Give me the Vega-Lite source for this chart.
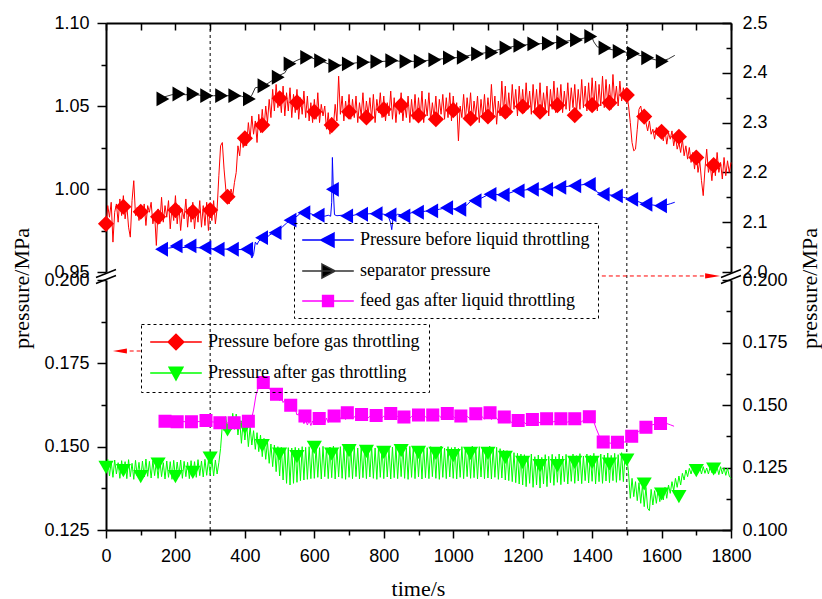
{
"$schema":"https://vega.github.io/schema/vega-lite/v6.json",
"width":625,"height":507,
"autosize":{"type":"none"},
"padding":{"left":106,"top":23,"right":91,"bottom":69},
"background":"white",
"config":{
 "view":{"stroke":null},
 "axis":{"labelFont":"Liberation Sans","labelFontSize":18,"labelColor":"black","titleFont":"Liberation Serif","titleFontSize":22,"titleFontWeight":"normal","titleColor":"black","domainColor":"black","domainWidth":2,"tickColor":"black","tickWidth":1.5,"grid":false,"labelFlush":false,"labelOverlap":false,"labelBound":false},
 "legend":{"labelFont":"Liberation Serif","labelFontSize":18,"labelColor":"black","labelLimit":400,"symbolStrokeWidth":1.5,"symbolSize":144,"symbolOffset":17,"labelOffset":23,"rowPadding":11,"symbolOpacity":1,"strokeColor":"black","orient":"none","title":null}
},
"datasets":{
"vl":[{"t":300},{"t":1500}],
"legB":[{"s":"Pressure before gas throttling"},{"s":"Pressure after gas throttling"}],
"legA":[{"s":"Pressure before liquid throttling"},{"s":"separator pressure"},{"s":"feed gas after liquid throttling"}],
"red":[{"t":0,"v":0.978},{"t":5,"v":0.990},{"t":10,"v":0.983},{"t":15,"v":0.992},{"t":20,"v":0.968},{"t":25,"v":0.986},{"t":30,"v":0.991},{"t":35,"v":0.980},{"t":40,"v":0.994},{"t":45,"v":0.984},{"t":50,"v":0.996},{"t":55,"v":0.982},{"t":60,"v":0.990},{"t":65,"v":0.977},{"t":70,"v":0.971},{"t":75,"v":0.993},{"t":80,"v":1.005},{"t":85,"v":0.984},{"t":90,"v":0.989},{"t":95,"v":0.981},{"t":100,"v":0.988},{"t":105,"v":0.983},{"t":110,"v":0.991},{"t":115,"v":0.978},{"t":120,"v":0.990},{"t":125,"v":0.986},{"t":130,"v":0.992},{"t":135,"v":0.979},{"t":140,"v":0.985},{"t":145,"v":0.966},{"t":150,"v":0.988},{"t":155,"v":0.979},{"t":160,"v":0.995},{"t":165,"v":0.980},{"t":170,"v":0.990},{"t":175,"v":0.983},{"t":180,"v":0.993},{"t":185,"v":0.976},{"t":190,"v":0.989},{"t":195,"v":0.981},{"t":200,"v":0.996},{"t":205,"v":0.979},{"t":210,"v":0.990},{"t":215,"v":0.975},{"t":220,"v":0.987},{"t":225,"v":0.982},{"t":230,"v":0.994},{"t":235,"v":0.977},{"t":240,"v":0.989},{"t":245,"v":0.980},{"t":250,"v":0.992},{"t":255,"v":0.976},{"t":260,"v":0.988},{"t":265,"v":0.980},{"t":270,"v":0.993},{"t":275,"v":0.977},{"t":280,"v":0.990},{"t":285,"v":0.978},{"t":290,"v":0.992},{"t":295,"v":0.975},{"t":300,"v":0.989},{"t":305,"v":0.981},{"t":310,"v":0.993},{"t":315,"v":0.979},{"t":320,"v":0.988},{"t":325,"v":1.008},{"t":330,"v":1.026},{"t":335,"v":1.028},{"t":340,"v":1.012},{"t":345,"v":1.000},{"t":350,"v":0.993},{"t":355,"v":0.991},{"t":360,"v":1.000},{"t":365,"v":0.996},{"t":370,"v":1.004},{"t":375,"v":1.010},{"t":380,"v":1.026},{"t":385,"v":1.020},{"t":390,"v":1.033},{"t":395,"v":1.025},{"t":400,"v":1.032},{"t":405,"v":1.026},{"t":410,"v":1.040},{"t":415,"v":1.030},{"t":420,"v":1.044},{"t":425,"v":1.033},{"t":430,"v":1.041},{"t":435,"v":1.028},{"t":440,"v":1.045},{"t":445,"v":1.034},{"t":450,"v":1.048},{"t":455,"v":1.036},{"t":460,"v":1.050},{"t":465,"v":1.040},{"t":470,"v":1.054},{"t":475,"v":1.043},{"t":480,"v":1.060},{"t":485,"v":1.047},{"t":490,"v":1.063},{"t":495,"v":1.049},{"t":500,"v":1.058},{"t":505,"v":1.046},{"t":510,"v":1.062},{"t":515,"v":1.044},{"t":520,"v":1.058},{"t":525,"v":1.047},{"t":530,"v":1.061},{"t":535,"v":1.043},{"t":540,"v":1.057},{"t":545,"v":1.046},{"t":550,"v":1.060},{"t":555,"v":1.042},{"t":560,"v":1.055},{"t":565,"v":1.045},{"t":570,"v":1.059},{"t":575,"v":1.043},{"t":580,"v":1.056},{"t":585,"v":1.041},{"t":590,"v":1.052},{"t":595,"v":1.040},{"t":600,"v":1.054},{"t":605,"v":1.042},{"t":610,"v":1.058},{"t":615,"v":1.040},{"t":620,"v":1.051},{"t":625,"v":1.044},{"t":630,"v":1.050},{"t":635,"v":1.036},{"t":640,"v":1.046},{"t":645,"v":1.033},{"t":650,"v":1.043},{"t":655,"v":1.038},{"t":660,"v":1.051},{"t":665,"v":1.041},{"t":670,"v":1.068},{"t":675,"v":1.045},{"t":680,"v":1.056},{"t":685,"v":1.041},{"t":690,"v":1.053},{"t":695,"v":1.044},{"t":700,"v":1.057},{"t":705,"v":1.042},{"t":710,"v":1.054},{"t":715,"v":1.043},{"t":720,"v":1.056},{"t":725,"v":1.040},{"t":730,"v":1.052},{"t":735,"v":1.044},{"t":740,"v":1.058},{"t":745,"v":1.041},{"t":750,"v":1.053},{"t":755,"v":1.045},{"t":760,"v":1.055},{"t":765,"v":1.042},{"t":770,"v":1.057},{"t":775,"v":1.040},{"t":780,"v":1.054},{"t":785,"v":1.046},{"t":790,"v":1.058},{"t":795,"v":1.043},{"t":800,"v":1.056},{"t":805,"v":1.041},{"t":810,"v":1.052},{"t":815,"v":1.044},{"t":820,"v":1.059},{"t":825,"v":1.042},{"t":830,"v":1.055},{"t":835,"v":1.040},{"t":840,"v":1.053},{"t":845,"v":1.045},{"t":850,"v":1.058},{"t":855,"v":1.041},{"t":860,"v":1.052},{"t":865,"v":1.043},{"t":870,"v":1.056},{"t":875,"v":1.040},{"t":880,"v":1.054},{"t":885,"v":1.042},{"t":890,"v":1.057},{"t":895,"v":1.041},{"t":900,"v":1.055},{"t":905,"v":1.043},{"t":910,"v":1.059},{"t":915,"v":1.040},{"t":920,"v":1.054},{"t":925,"v":1.044},{"t":930,"v":1.058},{"t":935,"v":1.041},{"t":940,"v":1.052},{"t":945,"v":1.043},{"t":950,"v":1.056},{"t":955,"v":1.040},{"t":960,"v":1.054},{"t":965,"v":1.045},{"t":970,"v":1.057},{"t":975,"v":1.042},{"t":980,"v":1.055},{"t":985,"v":1.043},{"t":990,"v":1.058},{"t":995,"v":1.041},{"t":1000,"v":1.056},{"t":1005,"v":1.044},{"t":1010,"v":1.052},{"t":1015,"v":1.029},{"t":1020,"v":1.050},{"t":1025,"v":1.043},{"t":1030,"v":1.057},{"t":1035,"v":1.041},{"t":1040,"v":1.055},{"t":1045,"v":1.044},{"t":1050,"v":1.058},{"t":1055,"v":1.041},{"t":1060,"v":1.053},{"t":1065,"v":1.044},{"t":1070,"v":1.056},{"t":1075,"v":1.040},{"t":1080,"v":1.054},{"t":1085,"v":1.043},{"t":1090,"v":1.057},{"t":1095,"v":1.042},{"t":1100,"v":1.055},{"t":1105,"v":1.044},{"t":1110,"v":1.063},{"t":1115,"v":1.045},{"t":1120,"v":1.056},{"t":1125,"v":1.039},{"t":1130,"v":1.053},{"t":1135,"v":1.044},{"t":1140,"v":1.065},{"t":1145,"v":1.046},{"t":1150,"v":1.062},{"t":1155,"v":1.043},{"t":1160,"v":1.058},{"t":1165,"v":1.045},{"t":1170,"v":1.063},{"t":1175,"v":1.048},{"t":1180,"v":1.060},{"t":1185,"v":1.044},{"t":1190,"v":1.062},{"t":1195,"v":1.047},{"t":1200,"v":1.060},{"t":1205,"v":1.046},{"t":1210,"v":1.064},{"t":1215,"v":1.048},{"t":1220,"v":1.059},{"t":1225,"v":1.045},{"t":1230,"v":1.063},{"t":1235,"v":1.047},{"t":1240,"v":1.060},{"t":1245,"v":1.046},{"t":1250,"v":1.064},{"t":1255,"v":1.045},{"t":1260,"v":1.058},{"t":1265,"v":1.047},{"t":1270,"v":1.062},{"t":1275,"v":1.044},{"t":1280,"v":1.060},{"t":1285,"v":1.048},{"t":1290,"v":1.065},{"t":1295,"v":1.046},{"t":1300,"v":1.061},{"t":1305,"v":1.047},{"t":1310,"v":1.063},{"t":1315,"v":1.046},{"t":1320,"v":1.059},{"t":1325,"v":1.048},{"t":1330,"v":1.064},{"t":1335,"v":1.047},{"t":1340,"v":1.061},{"t":1345,"v":1.049},{"t":1350,"v":1.063},{"t":1355,"v":1.046},{"t":1360,"v":1.060},{"t":1365,"v":1.048},{"t":1370,"v":1.066},{"t":1375,"v":1.049},{"t":1380,"v":1.062},{"t":1385,"v":1.047},{"t":1390,"v":1.064},{"t":1395,"v":1.048},{"t":1400,"v":1.067},{"t":1405,"v":1.049},{"t":1410,"v":1.065},{"t":1415,"v":1.047},{"t":1420,"v":1.063},{"t":1425,"v":1.050},{"t":1430,"v":1.068},{"t":1435,"v":1.049},{"t":1440,"v":1.066},{"t":1445,"v":1.051},{"t":1450,"v":1.063},{"t":1455,"v":1.048},{"t":1460,"v":1.069},{"t":1465,"v":1.052},{"t":1470,"v":1.062},{"t":1475,"v":1.050},{"t":1480,"v":1.065},{"t":1485,"v":1.053},{"t":1490,"v":1.061},{"t":1495,"v":1.055},{"t":1500,"v":1.057},{"t":1505,"v":1.050},{"t":1510,"v":1.040},{"t":1515,"v":1.028},{"t":1520,"v":1.023},{"t":1525,"v":1.024},{"t":1530,"v":1.036},{"t":1535,"v":1.048},{"t":1540,"v":1.050},{"t":1545,"v":1.044},{"t":1550,"v":1.043},{"t":1555,"v":1.040},{"t":1560,"v":1.035},{"t":1565,"v":1.041},{"t":1570,"v":1.033},{"t":1575,"v":1.036},{"t":1580,"v":1.030},{"t":1585,"v":1.037},{"t":1590,"v":1.032},{"t":1595,"v":1.035},{"t":1600,"v":1.034},{"t":1605,"v":1.029},{"t":1610,"v":1.036},{"t":1615,"v":1.027},{"t":1620,"v":1.034},{"t":1625,"v":1.030},{"t":1630,"v":1.035},{"t":1635,"v":1.026},{"t":1640,"v":1.032},{"t":1645,"v":1.024},{"t":1650,"v":1.028},{"t":1655,"v":1.022},{"t":1660,"v":1.030},{"t":1665,"v":1.020},{"t":1670,"v":1.026},{"t":1675,"v":1.018},{"t":1680,"v":1.025},{"t":1685,"v":1.016},{"t":1690,"v":1.022},{"t":1695,"v":1.012},{"t":1700,"v":1.022},{"t":1705,"v":1.010},{"t":1710,"v":1.017},{"t":1715,"v":1.005},{"t":1720,"v":0.996},{"t":1725,"v":1.012},{"t":1730,"v":1.024},{"t":1735,"v":1.010},{"t":1740,"v":1.015},{"t":1745,"v":1.005},{"t":1750,"v":1.018},{"t":1755,"v":1.008},{"t":1760,"v":1.022},{"t":1765,"v":1.010},{"t":1770,"v":1.016},{"t":1775,"v":1.006},{"t":1780,"v":1.019},{"t":1785,"v":1.008},{"t":1790,"v":1.017},{"t":1795,"v":1.010},{"t":1800,"v":1.016}],
"redM":[{"t":0,"v":0.979},{"t":50,"v":0.9893},{"t":100,"v":0.9863},{"t":150,"v":0.9833},{"t":200,"v":0.9873},{"t":250,"v":0.9863},{"t":300,"v":0.9873},{"t":350,"v":0.9953},{"t":400,"v":1.0305},{"t":450,"v":1.0385},{"t":500,"v":1.0546},{"t":550,"v":1.0522},{"t":600,"v":1.0465},{"t":650,"v":1.0385},{"t":700,"v":1.0465},{"t":750,"v":1.0431},{"t":800,"v":1.048},{"t":850,"v":1.0505},{"t":900,"v":1.0443},{"t":950,"v":1.042},{"t":1000,"v":1.0475},{"t":1050,"v":1.0425},{"t":1100,"v":1.0437},{"t":1150,"v":1.0465},{"t":1200,"v":1.0497},{"t":1250,"v":1.0465},{"t":1300,"v":1.0505},{"t":1350,"v":1.0445},{"t":1400,"v":1.0505},{"t":1450,"v":1.0519},{"t":1500,"v":1.0566},{"t":1550,"v":1.0436},{"t":1600,"v":1.0345},{"t":1650,"v":1.0315},{"t":1700,"v":1.019},{"t":1750,"v":1.0144}],
"green":[{"t":0,"v":0.1435},{"t":5,"v":0.1462},{"t":10,"v":0.1412},{"t":15,"v":0.1455},{"t":20,"v":0.1408},{"t":25,"v":0.146},{"t":30,"v":0.1418},{"t":35,"v":0.1452},{"t":40,"v":0.1405},{"t":45,"v":0.1458},{"t":50,"v":0.1415},{"t":55,"v":0.1455},{"t":60,"v":0.1404},{"t":65,"v":0.1461},{"t":70,"v":0.141},{"t":75,"v":0.145},{"t":80,"v":0.1402},{"t":85,"v":0.1459},{"t":90,"v":0.1412},{"t":95,"v":0.1453},{"t":100,"v":0.1404},{"t":105,"v":0.1457},{"t":110,"v":0.1409},{"t":115,"v":0.1463},{"t":120,"v":0.1411},{"t":125,"v":0.1456},{"t":130,"v":0.1406},{"t":135,"v":0.1458},{"t":140,"v":0.1413},{"t":145,"v":0.1454},{"t":150,"v":0.1405},{"t":155,"v":0.146},{"t":160,"v":0.141},{"t":165,"v":0.1452},{"t":170,"v":0.1403},{"t":175,"v":0.1457},{"t":180,"v":0.1408},{"t":185,"v":0.1455},{"t":190,"v":0.1402},{"t":195,"v":0.1459},{"t":200,"v":0.1407},{"t":205,"v":0.1454},{"t":210,"v":0.1411},{"t":215,"v":0.146},{"t":220,"v":0.1405},{"t":225,"v":0.1456},{"t":230,"v":0.141},{"t":235,"v":0.1453},{"t":240,"v":0.1404},{"t":245,"v":0.1458},{"t":250,"v":0.1412},{"t":255,"v":0.1455},{"t":260,"v":0.1408},{"t":265,"v":0.1461},{"t":270,"v":0.1413},{"t":275,"v":0.1457},{"t":280,"v":0.1409},{"t":285,"v":0.1462},{"t":290,"v":0.1414},{"t":295,"v":0.1459},{"t":300,"v":0.1416},{"t":305,"v":0.1463},{"t":310,"v":0.1412},{"t":315,"v":0.146},{"t":320,"v":0.1418},{"t":325,"v":0.1452},{"t":330,"v":0.1495},{"t":335,"v":0.1565},{"t":340,"v":0.1548},{"t":345,"v":0.159},{"t":350,"v":0.1545},{"t":355,"v":0.1585},{"t":360,"v":0.155},{"t":365,"v":0.16},{"t":370,"v":0.1552},{"t":375,"v":0.1598},{"t":380,"v":0.1535},{"t":385,"v":0.158},{"t":390,"v":0.151},{"t":395,"v":0.1575},{"t":400,"v":0.152},{"t":405,"v":0.1568},{"t":410,"v":0.15},{"t":415,"v":0.156},{"t":420,"v":0.1505},{"t":425,"v":0.1548},{"t":430,"v":0.1492},{"t":435,"v":0.1542},{"t":440,"v":0.1485},{"t":445,"v":0.1535},{"t":450,"v":0.147},{"t":455,"v":0.1525},{"t":460,"v":0.1462},{"t":465,"v":0.1515},{"t":470,"v":0.145},{"t":475,"v":0.1508},{"t":480,"v":0.144},{"t":485,"v":0.1505},{"t":490,"v":0.1425},{"t":495,"v":0.15},{"t":500,"v":0.1412},{"t":505,"v":0.1498},{"t":510,"v":0.14},{"t":515,"v":0.1495},{"t":520,"v":0.139},{"t":525,"v":0.1497},{"t":530,"v":0.1385},{"t":535,"v":0.1496},{"t":540,"v":0.139},{"t":545,"v":0.1498},{"t":550,"v":0.1393},{"t":555,"v":0.1495},{"t":560,"v":0.1398},{"t":565,"v":0.15},{"t":570,"v":0.14},{"t":575,"v":0.1498},{"t":580,"v":0.1402},{"t":585,"v":0.15},{"t":590,"v":0.1404},{"t":595,"v":0.1502},{"t":600,"v":0.1405},{"t":605,"v":0.15},{"t":610,"v":0.1408},{"t":615,"v":0.1497},{"t":620,"v":0.1403},{"t":625,"v":0.1501},{"t":630,"v":0.141},{"t":635,"v":0.1495},{"t":640,"v":0.1404},{"t":645,"v":0.1499},{"t":650,"v":0.1407},{"t":655,"v":0.1502},{"t":660,"v":0.1403},{"t":665,"v":0.1496},{"t":670,"v":0.1409},{"t":675,"v":0.15},{"t":680,"v":0.1405},{"t":685,"v":0.1498},{"t":690,"v":0.1402},{"t":695,"v":0.1503},{"t":700,"v":0.1408},{"t":705,"v":0.1497},{"t":710,"v":0.1404},{"t":715,"v":0.15},{"t":720,"v":0.141},{"t":725,"v":0.1496},{"t":730,"v":0.1403},{"t":735,"v":0.1501},{"t":740,"v":0.1407},{"t":745,"v":0.1498},{"t":750,"v":0.1404},{"t":755,"v":0.1499},{"t":760,"v":0.1409},{"t":765,"v":0.1502},{"t":770,"v":0.1405},{"t":775,"v":0.1496},{"t":780,"v":0.1402},{"t":785,"v":0.15},{"t":790,"v":0.1408},{"t":795,"v":0.1497},{"t":800,"v":0.1404},{"t":805,"v":0.1501},{"t":810,"v":0.1409},{"t":815,"v":0.1495},{"t":820,"v":0.1403},{"t":825,"v":0.1499},{"t":830,"v":0.1407},{"t":835,"v":0.1502},{"t":840,"v":0.1404},{"t":845,"v":0.1497},{"t":850,"v":0.141},{"t":855,"v":0.15},{"t":860,"v":0.1405},{"t":865,"v":0.1496},{"t":870,"v":0.1402},{"t":875,"v":0.1501},{"t":880,"v":0.1408},{"t":885,"v":0.1498},{"t":890,"v":0.1404},{"t":895,"v":0.15},{"t":900,"v":0.1409},{"t":905,"v":0.1496},{"t":910,"v":0.1403},{"t":915,"v":0.1501},{"t":920,"v":0.1407},{"t":925,"v":0.1497},{"t":930,"v":0.1404},{"t":935,"v":0.15},{"t":940,"v":0.141},{"t":945,"v":0.1495},{"t":950,"v":0.1405},{"t":955,"v":0.1499},{"t":960,"v":0.1402},{"t":965,"v":0.1502},{"t":970,"v":0.1408},{"t":975,"v":0.1496},{"t":980,"v":0.1404},{"t":985,"v":0.15},{"t":990,"v":0.1409},{"t":995,"v":0.1497},{"t":1000,"v":0.1405},{"t":1005,"v":0.1499},{"t":1010,"v":0.1403},{"t":1015,"v":0.1495},{"t":1020,"v":0.1408},{"t":1025,"v":0.15},{"t":1030,"v":0.1404},{"t":1035,"v":0.1497},{"t":1040,"v":0.141},{"t":1045,"v":0.1499},{"t":1050,"v":0.1405},{"t":1055,"v":0.1502},{"t":1060,"v":0.1407},{"t":1065,"v":0.1496},{"t":1070,"v":0.1403},{"t":1075,"v":0.15},{"t":1080,"v":0.1409},{"t":1085,"v":0.1497},{"t":1090,"v":0.1404},{"t":1095,"v":0.1499},{"t":1100,"v":0.1406},{"t":1105,"v":0.1502},{"t":1110,"v":0.1403},{"t":1115,"v":0.1496},{"t":1120,"v":0.1408},{"t":1125,"v":0.1498},{"t":1130,"v":0.1402},{"t":1135,"v":0.1494},{"t":1140,"v":0.1406},{"t":1145,"v":0.149},{"t":1150,"v":0.14},{"t":1155,"v":0.1488},{"t":1160,"v":0.1398},{"t":1165,"v":0.1485},{"t":1170,"v":0.1395},{"t":1175,"v":0.1482},{"t":1180,"v":0.1392},{"t":1185,"v":0.148},{"t":1190,"v":0.1388},{"t":1195,"v":0.1478},{"t":1200,"v":0.1385},{"t":1205,"v":0.1476},{"t":1210,"v":0.138},{"t":1215,"v":0.1472},{"t":1220,"v":0.139},{"t":1225,"v":0.1478},{"t":1230,"v":0.1378},{"t":1235,"v":0.147},{"t":1240,"v":0.1385},{"t":1245,"v":0.1475},{"t":1250,"v":0.1376},{"t":1255,"v":0.1468},{"t":1260,"v":0.1388},{"t":1265,"v":0.1476},{"t":1270,"v":0.138},{"t":1275,"v":0.1471},{"t":1280,"v":0.1392},{"t":1285,"v":0.1477},{"t":1290,"v":0.1384},{"t":1295,"v":0.147},{"t":1300,"v":0.1393},{"t":1305,"v":0.1478},{"t":1310,"v":0.1386},{"t":1315,"v":0.1472},{"t":1320,"v":0.1395},{"t":1325,"v":0.1477},{"t":1330,"v":0.1388},{"t":1335,"v":0.147},{"t":1340,"v":0.1396},{"t":1345,"v":0.1478},{"t":1350,"v":0.139},{"t":1355,"v":0.1473},{"t":1360,"v":0.1397},{"t":1365,"v":0.1479},{"t":1370,"v":0.1389},{"t":1375,"v":0.1472},{"t":1380,"v":0.1398},{"t":1385,"v":0.1478},{"t":1390,"v":0.1391},{"t":1395,"v":0.1474},{"t":1400,"v":0.1396},{"t":1405,"v":0.148},{"t":1410,"v":0.1388},{"t":1415,"v":0.1472},{"t":1420,"v":0.1395},{"t":1425,"v":0.1478},{"t":1430,"v":0.139},{"t":1435,"v":0.1475},{"t":1440,"v":0.1397},{"t":1445,"v":0.1481},{"t":1450,"v":0.1392},{"t":1455,"v":0.1474},{"t":1460,"v":0.1398},{"t":1465,"v":0.148},{"t":1470,"v":0.1393},{"t":1475,"v":0.1476},{"t":1480,"v":0.1399},{"t":1485,"v":0.1482},{"t":1490,"v":0.1395},{"t":1495,"v":0.1478},{"t":1500,"v":0.147},{"t":1505,"v":0.142},{"t":1510,"v":0.1345},{"t":1515,"v":0.1405},{"t":1520,"v":0.135},{"t":1525,"v":0.1395},{"t":1530,"v":0.1338},{"t":1535,"v":0.1392},{"t":1540,"v":0.133},{"t":1545,"v":0.1385},{"t":1550,"v":0.132},{"t":1555,"v":0.1378},{"t":1560,"v":0.1315},{"t":1565,"v":0.1308},{"t":1570,"v":0.1372},{"t":1575,"v":0.1325},{"t":1580,"v":0.1368},{"t":1585,"v":0.133},{"t":1590,"v":0.1372},{"t":1595,"v":0.1335},{"t":1600,"v":0.1375},{"t":1605,"v":0.134},{"t":1610,"v":0.1378},{"t":1615,"v":0.1345},{"t":1620,"v":0.1385},{"t":1625,"v":0.136},{"t":1630,"v":0.1395},{"t":1635,"v":0.1368},{"t":1640,"v":0.1405},{"t":1645,"v":0.1378},{"t":1650,"v":0.1412},{"t":1655,"v":0.1385},{"t":1660,"v":0.142},{"t":1665,"v":0.14},{"t":1670,"v":0.143},{"t":1675,"v":0.141},{"t":1680,"v":0.1435},{"t":1685,"v":0.1418},{"t":1690,"v":0.1438},{"t":1695,"v":0.142},{"t":1700,"v":0.144},{"t":1705,"v":0.1422},{"t":1710,"v":0.1438},{"t":1715,"v":0.1418},{"t":1720,"v":0.144},{"t":1725,"v":0.142},{"t":1730,"v":0.1436},{"t":1735,"v":0.1418},{"t":1740,"v":0.144},{"t":1745,"v":0.1422},{"t":1750,"v":0.1442},{"t":1755,"v":0.142},{"t":1760,"v":0.1438},{"t":1765,"v":0.1416},{"t":1770,"v":0.144},{"t":1775,"v":0.1418},{"t":1780,"v":0.1437},{"t":1785,"v":0.1414},{"t":1790,"v":0.1436},{"t":1795,"v":0.1412},{"t":1800,"v":0.1405}],
"greenM":[{"t":0,"v":0.1438},{"t":50,"v":0.1428},{"t":100,"v":0.141},{"t":150,"v":0.1448},{"t":200,"v":0.141},{"t":250,"v":0.1423},{"t":300,"v":0.1466},{"t":350,"v":0.155},{"t":400,"v":0.1558},{"t":450,"v":0.1503},{"t":500,"v":0.1478},{"t":550,"v":0.147},{"t":600,"v":0.1498},{"t":650,"v":0.1478},{"t":700,"v":0.1488},{"t":750,"v":0.1486},{"t":800,"v":0.1483},{"t":850,"v":0.1488},{"t":900,"v":0.1483},{"t":950,"v":0.148},{"t":1000,"v":0.1473},{"t":1050,"v":0.148},{"t":1100,"v":0.148},{"t":1150,"v":0.1468},{"t":1200,"v":0.1453},{"t":1250,"v":0.1443},{"t":1300,"v":0.1443},{"t":1350,"v":0.1453},{"t":1400,"v":0.1453},{"t":1450,"v":0.1448},{"t":1500,"v":0.146},{"t":1550,"v":0.1388},{"t":1600,"v":0.1358},{"t":1650,"v":0.135},{"t":1700,"v":0.1428},{"t":1750,"v":0.1433}],
"blue":[{"t":160,"v":2.046},{"t":180,"v":2.048},{"t":200,"v":2.05},{"t":220,"v":2.049},{"t":240,"v":2.05},{"t":260,"v":2.049},{"t":280,"v":2.048},{"t":300,"v":2.047},{"t":320,"v":2.046},{"t":340,"v":2.046},{"t":360,"v":2.046},{"t":380,"v":2.045},{"t":400,"v":2.045},{"t":410,"v":2.046},{"t":415,"v":2.04},{"t":420,"v":2.028},{"t":425,"v":2.035},{"t":430,"v":2.06},{"t":435,"v":2.055},{"t":440,"v":2.062},{"t":450,"v":2.068},{"t":460,"v":2.066},{"t":470,"v":2.074},{"t":480,"v":2.078},{"t":490,"v":2.079},{"t":500,"v":2.085},{"t":510,"v":2.092},{"t":520,"v":2.098},{"t":530,"v":2.104},{"t":540,"v":2.108},{"t":550,"v":2.112},{"t":560,"v":2.118},{"t":570,"v":2.119},{"t":580,"v":2.116},{"t":590,"v":2.117},{"t":600,"v":2.114},{"t":610,"v":2.113},{"t":620,"v":2.115},{"t":630,"v":2.112},{"t":640,"v":2.114},{"t":647,"v":2.112},{"t":650,"v":2.14},{"t":652,"v":2.23},{"t":655,"v":2.16},{"t":658,"v":2.115},{"t":665,"v":2.113},{"t":680,"v":2.114},{"t":700,"v":2.112},{"t":720,"v":2.115},{"t":740,"v":2.116},{"t":760,"v":2.117},{"t":780,"v":2.118},{"t":800,"v":2.116},{"t":812,"v":2.114},{"t":819,"v":2.1},{"t":823,"v":2.085},{"t":827,"v":2.11},{"t":840,"v":2.116},{"t":860,"v":2.114},{"t":880,"v":2.119},{"t":900,"v":2.121},{"t":920,"v":2.122},{"t":940,"v":2.123},{"t":960,"v":2.126},{"t":980,"v":2.129},{"t":1000,"v":2.127},{"t":1020,"v":2.126},{"t":1040,"v":2.135},{"t":1050,"v":2.142},{"t":1060,"v":2.143},{"t":1080,"v":2.148},{"t":1100,"v":2.155},{"t":1120,"v":2.156},{"t":1140,"v":2.155},{"t":1160,"v":2.158},{"t":1180,"v":2.163},{"t":1200,"v":2.164},{"t":1220,"v":2.166},{"t":1240,"v":2.166},{"t":1260,"v":2.167},{"t":1280,"v":2.168},{"t":1300,"v":2.17},{"t":1320,"v":2.171},{"t":1340,"v":2.173},{"t":1360,"v":2.174},{"t":1380,"v":2.176},{"t":1395,"v":2.178},{"t":1405,"v":2.17},{"t":1415,"v":2.16},{"t":1430,"v":2.157},{"t":1450,"v":2.155},{"t":1470,"v":2.153},{"t":1490,"v":2.15},{"t":1510,"v":2.146},{"t":1530,"v":2.142},{"t":1550,"v":2.137},{"t":1570,"v":2.135},{"t":1590,"v":2.133},{"t":1610,"v":2.134},{"t":1625,"v":2.137},{"t":1638,"v":2.14}],
"black":[{"t":160,"v":2.348},{"t":170,"v":2.352},{"t":190,"v":2.356},{"t":210,"v":2.357},{"t":230,"v":2.356},{"t":250,"v":2.357},{"t":270,"v":2.355},{"t":290,"v":2.354},{"t":310,"v":2.354},{"t":330,"v":2.354},{"t":350,"v":2.354},{"t":370,"v":2.354},{"t":390,"v":2.353},{"t":410,"v":2.348},{"t":420,"v":2.355},{"t":430,"v":2.37},{"t":445,"v":2.372},{"t":460,"v":2.376},{"t":480,"v":2.385},{"t":500,"v":2.395},{"t":515,"v":2.4},{"t":530,"v":2.418},{"t":550,"v":2.425},{"t":570,"v":2.431},{"t":585,"v":2.432},{"t":600,"v":2.428},{"t":620,"v":2.424},{"t":640,"v":2.418},{"t":660,"v":2.414},{"t":680,"v":2.416},{"t":700,"v":2.418},{"t":720,"v":2.42},{"t":740,"v":2.421},{"t":780,"v":2.422},{"t":820,"v":2.424},{"t":860,"v":2.423},{"t":900,"v":2.423},{"t":940,"v":2.426},{"t":980,"v":2.429},{"t":1020,"v":2.431},{"t":1060,"v":2.437},{"t":1100,"v":2.441},{"t":1140,"v":2.448},{"t":1180,"v":2.454},{"t":1220,"v":2.457},{"t":1260,"v":2.459},{"t":1300,"v":2.461},{"t":1340,"v":2.465},{"t":1380,"v":2.47},{"t":1398,"v":2.474},{"t":1405,"v":2.462},{"t":1415,"v":2.452},{"t":1440,"v":2.449},{"t":1480,"v":2.443},{"t":1520,"v":2.439},{"t":1560,"v":2.43},{"t":1600,"v":2.423},{"t":1620,"v":2.428},{"t":1638,"v":2.435}],
"blueM":[{"t":160,"v":2.0457},{"t":202,"v":2.0523},{"t":242,"v":2.0523},{"t":285,"v":2.049},{"t":323,"v":2.0457},{"t":364,"v":2.0457},{"t":405,"v":2.0457},{"t":448,"v":2.069},{"t":487,"v":2.079},{"t":530,"v":2.104},{"t":570,"v":2.119},{"t":611,"v":2.114},{"t":652,"v":2.166},{"t":693,"v":2.1127},{"t":736,"v":2.116},{"t":778,"v":2.117},{"t":818,"v":2.1147},{"t":858,"v":2.1127},{"t":897,"v":2.12},{"t":938,"v":2.1227},{"t":981,"v":2.129},{"t":1019,"v":2.126},{"t":1063,"v":2.143},{"t":1106,"v":2.156},{"t":1144,"v":2.155},{"t":1187,"v":2.163},{"t":1228,"v":2.166},{"t":1269,"v":2.166},{"t":1307,"v":2.17},{"t":1350,"v":2.173},{"t":1392,"v":2.176},{"t":1432,"v":2.156},{"t":1470,"v":2.153},{"t":1514,"v":2.146},{"t":1555,"v":2.136},{"t":1597,"v":2.133}],
"blackM":[{"t":164,"v":2.3475},{"t":210,"v":2.3575},{"t":251,"v":2.3575},{"t":290,"v":2.354},{"t":333,"v":2.354},{"t":371,"v":2.354},{"t":413,"v":2.3475},{"t":455,"v":2.374},{"t":496,"v":2.391},{"t":530,"v":2.418},{"t":578,"v":2.431},{"t":618,"v":2.4245},{"t":659,"v":2.4145},{"t":698,"v":2.418},{"t":741,"v":2.421},{"t":780,"v":2.4225},{"t":823,"v":2.4245},{"t":864,"v":2.423},{"t":905,"v":2.423},{"t":947,"v":2.426},{"t":989,"v":2.43},{"t":1029,"v":2.431},{"t":1070,"v":2.438},{"t":1111,"v":2.441},{"t":1152,"v":2.45},{"t":1192,"v":2.455},{"t":1232,"v":2.458},{"t":1274,"v":2.459},{"t":1315,"v":2.461},{"t":1355,"v":2.466},{"t":1396,"v":2.473},{"t":1437,"v":2.45},{"t":1478,"v":2.443},{"t":1519,"v":2.439},{"t":1560,"v":2.43},{"t":1602,"v":2.423}],
"magenta":[{"t":160,"v":0.1435},{"t":170,"v":0.1433},{"t":180,"v":0.1435},{"t":190,"v":0.1434},{"t":200,"v":0.1435},{"t":210,"v":0.1433},{"t":220,"v":0.1434},{"t":230,"v":0.1433},{"t":240,"v":0.1435},{"t":250,"v":0.1434},{"t":260,"v":0.1433},{"t":270,"v":0.1434},{"t":280,"v":0.1436},{"t":290,"v":0.1434},{"t":300,"v":0.1433},{"t":310,"v":0.1432},{"t":320,"v":0.1431},{"t":330,"v":0.143},{"t":340,"v":0.143},{"t":350,"v":0.1429},{"t":360,"v":0.143},{"t":370,"v":0.1429},{"t":380,"v":0.143},{"t":390,"v":0.1431},{"t":400,"v":0.1432},{"t":410,"v":0.1434},{"t":418,"v":0.1438},{"t":425,"v":0.148},{"t":432,"v":0.154},{"t":440,"v":0.1575},{"t":448,"v":0.159},{"t":455,"v":0.1592},{"t":462,"v":0.158},{"t":470,"v":0.1565},{"t":478,"v":0.1555},{"t":485,"v":0.154},{"t":490,"v":0.1525},{"t":495,"v":0.154},{"t":500,"v":0.1518},{"t":505,"v":0.1532},{"t":510,"v":0.151},{"t":515,"v":0.152},{"t":520,"v":0.15},{"t":525,"v":0.1508},{"t":530,"v":0.1492},{"t":535,"v":0.1498},{"t":540,"v":0.1478},{"t":545,"v":0.1485},{"t":550,"v":0.146},{"t":555,"v":0.1465},{"t":560,"v":0.144},{"t":565,"v":0.1448},{"t":570,"v":0.1425},{"t":575,"v":0.144},{"t":580,"v":0.142},{"t":585,"v":0.1438},{"t":590,"v":0.1418},{"t":595,"v":0.1436},{"t":600,"v":0.142},{"t":605,"v":0.144},{"t":610,"v":0.1422},{"t":615,"v":0.1442},{"t":620,"v":0.1425},{"t":625,"v":0.1445},{"t":630,"v":0.1428},{"t":635,"v":0.1448},{"t":640,"v":0.143},{"t":645,"v":0.145},{"t":650,"v":0.1433},{"t":660,"v":0.1452},{"t":670,"v":0.1438},{"t":680,"v":0.1455},{"t":690,"v":0.1442},{"t":700,"v":0.146},{"t":710,"v":0.1445},{"t":720,"v":0.1458},{"t":730,"v":0.1443},{"t":740,"v":0.1456},{"t":750,"v":0.1442},{"t":760,"v":0.1455},{"t":770,"v":0.1441},{"t":780,"v":0.1454},{"t":790,"v":0.1442},{"t":800,"v":0.1455},{"t":810,"v":0.1443},{"t":820,"v":0.1458},{"t":830,"v":0.1442},{"t":840,"v":0.1455},{"t":850,"v":0.144},{"t":860,"v":0.1452},{"t":870,"v":0.1441},{"t":880,"v":0.1454},{"t":890,"v":0.1442},{"t":900,"v":0.1455},{"t":910,"v":0.1441},{"t":920,"v":0.1453},{"t":930,"v":0.1442},{"t":940,"v":0.1455},{"t":950,"v":0.1443},{"t":960,"v":0.1457},{"t":970,"v":0.1442},{"t":980,"v":0.1458},{"t":990,"v":0.1441},{"t":1000,"v":0.1455},{"t":1010,"v":0.144},{"t":1020,"v":0.1452},{"t":1030,"v":0.1441},{"t":1040,"v":0.1455},{"t":1050,"v":0.1443},{"t":1060,"v":0.1457},{"t":1070,"v":0.1442},{"t":1080,"v":0.1458},{"t":1090,"v":0.1443},{"t":1100,"v":0.146},{"t":1110,"v":0.1442},{"t":1120,"v":0.1455},{"t":1130,"v":0.1438},{"t":1140,"v":0.1448},{"t":1150,"v":0.1432},{"t":1160,"v":0.1442},{"t":1170,"v":0.1428},{"t":1180,"v":0.1438},{"t":1190,"v":0.1425},{"t":1200,"v":0.1436},{"t":1210,"v":0.1424},{"t":1220,"v":0.1437},{"t":1230,"v":0.1426},{"t":1240,"v":0.144},{"t":1250,"v":0.1428},{"t":1260,"v":0.1441},{"t":1270,"v":0.143},{"t":1280,"v":0.1443},{"t":1290,"v":0.1432},{"t":1300,"v":0.1444},{"t":1310,"v":0.1432},{"t":1320,"v":0.1443},{"t":1330,"v":0.1431},{"t":1340,"v":0.1443},{"t":1350,"v":0.1432},{"t":1360,"v":0.1442},{"t":1370,"v":0.1433},{"t":1380,"v":0.1445},{"t":1390,"v":0.144},{"t":1398,"v":0.145},{"t":1405,"v":0.1432},{"t":1412,"v":0.1405},{"t":1420,"v":0.1378},{"t":1428,"v":0.1358},{"t":1440,"v":0.135},{"t":1460,"v":0.1346},{"t":1480,"v":0.1345},{"t":1490,"v":0.1349},{"t":1500,"v":0.1358},{"t":1510,"v":0.137},{"t":1520,"v":0.138},{"t":1535,"v":0.1395},{"t":1550,"v":0.1407},{"t":1565,"v":0.1418},{"t":1580,"v":0.1423},{"t":1600,"v":0.1427},{"t":1615,"v":0.1426},{"t":1625,"v":0.1421},{"t":1636,"v":0.1415}],
"magentaM":[{"t":170,"v":0.1435},{"t":205,"v":0.1433},{"t":246,"v":0.1433},{"t":288,"v":0.1438},{"t":328,"v":0.1429},{"t":369,"v":0.1429},{"t":410,"v":0.1435},{"t":453,"v":0.159},{"t":491,"v":0.1543},{"t":532,"v":0.1499},{"t":573,"v":0.1456},{"t":614,"v":0.1446},{"t":657,"v":0.1456},{"t":695,"v":0.1469},{"t":736,"v":0.1462},{"t":778,"v":0.1458},{"t":820,"v":0.1466},{"t":858,"v":0.1452},{"t":900,"v":0.146},{"t":941,"v":0.146},{"t":983,"v":0.1466},{"t":1022,"v":0.1456},{"t":1065,"v":0.1465},{"t":1106,"v":0.1469},{"t":1147,"v":0.1452},{"t":1187,"v":0.1438},{"t":1228,"v":0.1442},{"t":1269,"v":0.1445},{"t":1310,"v":0.1445},{"t":1350,"v":0.1445},{"t":1392,"v":0.1453},{"t":1432,"v":0.1352},{"t":1473,"v":0.1351},{"t":1514,"v":0.1375},{"t":1555,"v":0.1411},{"t":1597,"v":0.1426}],
"arrowR":[{"t":1428,"t2":1736,"v":0.9476}],
"arrowRH":[{"t":1747,"v":0.9476}],
"arrowL":[{"t":48,"t2":104,"v":0.1787}],
"arrowLH":[{"t":40,"v":0.1787}],
"brk":[{"t":0,"v":0.9476},{"t":1800,"v":0.9476}]
},
"layer":[
 {"data":{"name":"vl"},"mark":{"type":"rule","color":"black","strokeDash":[3,3],"strokeWidth":1},
  "encoding":{"x":{"field":"t","type":"quantitative","scale":{"domain":[0,1800],"nice":false},"axis":null}}},
 {"encoding":{
   "x":{"field":"t","type":"quantitative","scale":{"domain":[0,1800],"nice":false},
        "axis":{"orient":"top","values":[0,100,200,300,400,500,600,700,800,900,1000,1100,1200,1300,1400,1500,1600,1700,1800],"labels":false,"tickSize":-7,"title":null}},
   "y":{"field":"v","type":"quantitative","scale":{"domain":[0.95,1.1],"range":[249,0],"nice":false,"zero":false},
        "axis":{"orient":"left","values":[0.95,0.975,1,1.025,1.05,1.075,1.1],
          "labelExpr":"abs(datum.value*20-round(datum.value*20))<0.01 ? format(datum.value,'.2f') : ''",
          "tickSize":{"condition":{"test":"abs(datum.value*20-round(datum.value*20))<0.01","value":9},"value":5},
          "labelPadding":8,"title":"pressure/MPa","titleAngle":270,"titleBaseline":"middle","titleAlign":"center","titleX":-85,"titleY":265}}},
  "layer":[
   {"data":{"name":"red"},"mark":{"type":"line","color":"#ff0000","strokeWidth":1}},
   {"data":{"name":"redM"},"mark":{"type":"point","filled":true,"opacity":1,"size":260,"shape":"diamond","color":"#ff0000"}},
   {"data":{"name":"legB"},"mark":{"type":"point","opacity":1,"strokeWidth":1.5},
    "encoding":{
     "fill":{"field":"s","type":"nominal","scale":{"domain":["Pressure before gas throttling","Pressure after gas throttling"],"range":["#ff0000","#00ff00"]},
       "legend":{"legendX":35,"legendY":301,"padding":9,"encode":{"legend":{"update":{"strokeDash":{"value":[3,3]}}}}}},
     "stroke":{"field":"s","type":"nominal","scale":{"domain":["Pressure before gas throttling","Pressure after gas throttling"],"range":["#ff0000","#00ff00"]},
       "legend":{"legendX":35,"legendY":301,"padding":9,"encode":{"legend":{"update":{"strokeDash":{"value":[3,3]}}}}}},
     "shape":{"field":"s","type":"nominal","scale":{"domain":["Pressure before gas throttling","Pressure after gas throttling"],"range":["M-4.3,0H4.3M0,-1.3L1.3,0L0,1.3L-1.3,0Z","M-4.3,0H4.3M-1.15,-0.95L1.15,-0.95L0,1.15Z"]},
       "legend":{"legendX":35,"legendY":301,"padding":9,"encode":{"legend":{"update":{"strokeDash":{"value":[3,3]}}}}}}}},
   {"data":{"name":"arrowR"},"mark":{"type":"rule","color":"#ff0000","strokeDash":[4,3],"strokeWidth":1},"encoding":{"x2":{"field":"t2"}}},
   {"data":{"name":"arrowRH"},"mark":{"type":"point","filled":true,"opacity":1,"size":225,"shape":"M1,0L-1,-0.35L-1,0.35Z","color":"#ff0000"}},
   {"data":{"name":"brk"},"mark":{"type":"point","filled":false,"opacity":1,"size":400,"shape":"M-1,0.15L1,-0.65M-1,0.75L1,-0.05","color":"black","strokeWidth":1.5}}
  ]},
 {"encoding":{
   "x":{"field":"t","type":"quantitative","scale":{"domain":[0,1800],"nice":false},"axis":null},
   "y":{"field":"v","type":"quantitative","scale":{"domain":[2.0,2.5],"range":[249,0],"nice":false,"zero":false},
        "axis":{"orient":"right","values":[2.0,2.05,2.1,2.15,2.2,2.25,2.3,2.35,2.4,2.45,2.5],
          "labelExpr":"abs(datum.value*10-round(datum.value*10))<0.01 ? format(datum.value,'.1f') : ''",
          "tickSize":{"condition":{"test":"abs(datum.value*10-round(datum.value*10))<0.01","value":-9},"value":-5},
          "labelPadding":20,"title":"pressure/MPa","titleAngle":270,"titleBaseline":"middle","titleAlign":"center","titleX":78,"titleY":265}}},
  "layer":[
   {"data":{"name":"blue"},"mark":{"type":"line","color":"#0000ff","strokeWidth":1}},
   {"data":{"name":"black"},"mark":{"type":"line","color":"#333333","strokeWidth":1}},
   {"data":{"name":"blueM"},"mark":{"type":"point","filled":true,"opacity":1,"size":220,"shape":"triangle-left","color":"#0000ff"}},
   {"data":{"name":"blackM"},"mark":{"type":"point","filled":true,"opacity":1,"size":220,"shape":"triangle-right","color":"#000000"}},
   {"data":{"name":"legA"},"mark":{"type":"point","opacity":1,"strokeWidth":1.5},
    "encoding":{
     "fill":{"field":"s","type":"nominal","scale":{"domain":["Pressure before liquid throttling","separator pressure","feed gas after liquid throttling"],"range":["#0000ff","#000000","#ff00ff"]},
       "legend":{"legendX":188,"legendY":200,"padding":8,"encode":{"legend":{"update":{"strokeDash":{"value":[3,3]}}}}}},
     "stroke":{"field":"s","type":"nominal","scale":{"domain":["Pressure before liquid throttling","separator pressure","feed gas after liquid throttling"],"range":["#0000ff","#333333","#ff00ff"]},
       "legend":{"legendX":188,"legendY":200,"padding":8,"encode":{"legend":{"update":{"strokeDash":{"value":[3,3]}}}}}},
     "shape":{"field":"s","type":"nominal","scale":{"domain":["Pressure before liquid throttling","separator pressure","feed gas after liquid throttling"],"range":["M-4.3,0H4.3M1,-1.15L-1.2,0L1,1.15Z","M-4.3,0H4.3M-1,-1.15L1.2,0L-1,1.15Z","M-4.3,0H4.3M-0.9,-0.9H0.9V0.9H-0.9Z"]},
       "legend":{"legendX":188,"legendY":200,"padding":8,"encode":{"legend":{"update":{"strokeDash":{"value":[3,3]}}}}}}}}
  ]},
 {"encoding":{
   "x":{"field":"t","type":"quantitative","scale":{"domain":[0,1800],"nice":false},
        "axis":{"orient":"bottom","values":[0,100,200,300,400,500,600,700,800,900,1000,1100,1200,1300,1400,1500,1600,1700,1800],
          "labelExpr":"datum.value % 200 == 0 ? format(datum.value,'d') : ''",
          "tickSize":{"condition":{"test":"datum.value % 200 == 0","value":8},"value":5},
          "labelPadding":9,"title":"time/s","titleX":312,"titleY":65,"titleBaseline":"alphabetic","titleAlign":"center"}},
   "y":{"field":"v","type":"quantitative","scale":{"domain":[0.125,0.2],"range":[507,257],"nice":false,"zero":false},
        "axis":{"orient":"left","values":[0.125,0.1375,0.15,0.1625,0.175,0.1875,0.2],
          "labelExpr":"abs(datum.value*40-round(datum.value*40))<0.01 ? format(datum.value,'.3f') : ''",
          "tickSize":{"condition":{"test":"abs(datum.value*40-round(datum.value*40))<0.01","value":9},"value":5},
          "labelPadding":8,"title":null}}},
  "layer":[
   {"data":{"name":"green"},"mark":{"type":"line","color":"#00ff00","strokeWidth":1}},
   {"data":{"name":"greenM"},"mark":{"type":"point","filled":true,"opacity":1,"size":230,"shape":"triangle-down","color":"#00ff00"}},
   {"data":{"name":"arrowL"},"mark":{"type":"rule","color":"#ff0000","strokeDash":[4,3],"strokeWidth":1},"encoding":{"x2":{"field":"t2"}}},
   {"data":{"name":"arrowLH"},"mark":{"type":"point","filled":true,"opacity":1,"size":196,"shape":"M-1,0L1,-0.35L1,0.35Z","color":"#ff0000"}}
  ]},
 {"encoding":{
   "x":{"field":"t","type":"quantitative","scale":{"domain":[0,1800],"nice":false},"axis":null},
   "y":{"field":"v","type":"quantitative","scale":{"domain":[0.1,0.2],"range":[507,257],"nice":false,"zero":false},
        "axis":{"orient":"right","values":[0.1,0.1125,0.125,0.1375,0.15,0.1625,0.175,0.1875,0.2],
          "labelExpr":"abs(datum.value*40-round(datum.value*40))<0.01 ? format(datum.value,'.3f') : ''",
          "tickSize":{"condition":{"test":"abs(datum.value*40-round(datum.value*40))<0.01","value":-9},"value":-5},
          "labelPadding":20,"title":null}}},
  "layer":[
   {"data":{"name":"magenta"},"mark":{"type":"line","color":"#ff00ff","strokeWidth":1}},
   {"data":{"name":"magentaM"},"mark":{"type":"point","filled":true,"opacity":1,"size":170,"shape":"square","color":"#ff00ff"}}
  ]}
],
"resolve":{"scale":{"x":"independent","y":"independent","fill":"independent","stroke":"independent","shape":"independent"},"legend":{"fill":"independent","stroke":"independent","shape":"independent"}}
}
